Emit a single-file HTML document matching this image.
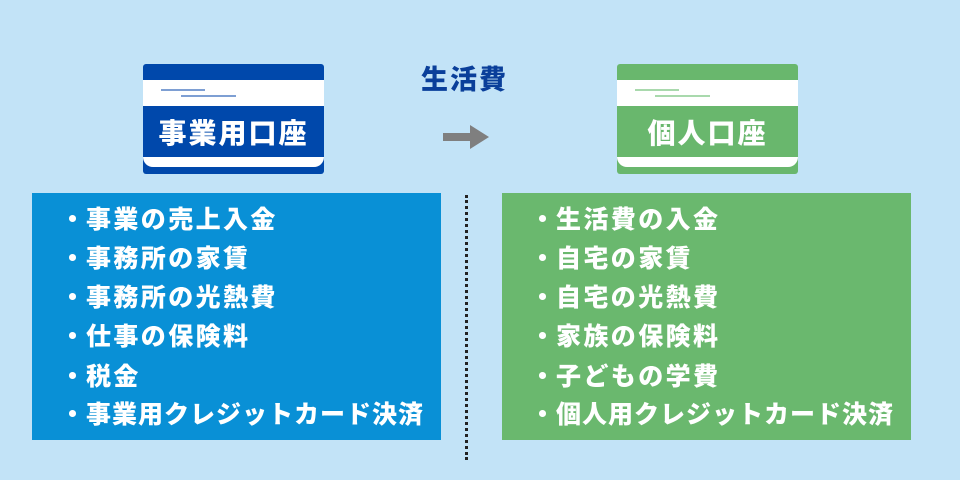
<!DOCTYPE html>
<html><head><meta charset="utf-8"><style>
body{margin:0;width:960px;height:480px;background:#c2e3f7;position:relative;overflow:hidden;font-family:"Liberation Sans","Noto Sans CJK JP",sans-serif;font-weight:bold}
.card{position:absolute;top:64px;width:181px;height:110px;border-radius:3px;overflow:hidden}
.card .w{position:absolute;left:0;right:0;top:16px;height:26px;background:#fff}
.card .b{position:absolute;left:0;right:0;top:93px;height:10px;background:#fff;border-radius:0 0 12px 12px}
.card .l1,.card .l2{position:absolute;height:2px}
.card .t{position:absolute;left:0;right:0;top:53px;text-align:center;color:#fff;font-size:28px;letter-spacing:2px;line-height:34px;font-weight:900}
.box{position:absolute;top:193px;width:409px;height:247px}
.ln{position:absolute;color:#fff;font-size:25px;line-height:30px;letter-spacing:2.4px;white-space:nowrap;font-weight:900}
.ln span{position:absolute;left:-26px}
</style></head><body>
<div class="card" style="left:143px;background:#0048ab">
<div class="w"></div><div class="l1" style="left:18px;top:25px;width:44px;background:#7e9fd3"></div><div class="l2" style="left:38px;top:31px;width:55px;background:#7e9fd3"></div>
<div class="b"></div><div class="t">事業用口座</div></div>
<div class="card" style="left:617px;background:#69b76d">
<div class="w"></div><div class="l1" style="left:18px;top:25px;width:44px;background:#a9d9ad"></div><div class="l2" style="left:38px;top:31px;width:55px;background:#a9d9ad"></div>
<div class="b"></div><div class="t">個人口座</div></div>
<div style="position:absolute;left:421px;top:64px;font-size:27px;letter-spacing:2px;color:#0a3f9a;line-height:32px;font-weight:900">生活費</div>
<svg style="position:absolute;left:440px;top:120px" width="55" height="34"><rect x="3" y="13" width="30" height="8" fill="#7f7f7f"/><polygon points="30,5 49,17 30,29" fill="#7f7f7f"/></svg>
<div class="box" style="left:32px;background:#0990d6"></div>
<div class="box" style="left:502px;background:#6ab86e"></div>
<div style="position:absolute;left:465px;top:195px;height:265px;border-left:3px dotted #222"></div>
<div class="ln" style="left:86px;top:205px"><span>・</span>事業の売上入金</div>
<div class="ln" style="left:86px;top:244px"><span>・</span>事務所の家賃</div>
<div class="ln" style="left:86px;top:283px"><span>・</span>事務所の光熱費</div>
<div class="ln" style="left:86px;top:322px"><span>・</span>仕事の保険料</div>
<div class="ln" style="left:86px;top:362px"><span>・</span>税金</div>
<div class="ln" style="left:86px;top:400px;letter-spacing:1px"><span>・</span>事業用クレジットカード決済</div>
<div class="ln" style="left:556px;top:205px"><span>・</span>生活費の入金</div>
<div class="ln" style="left:556px;top:244px"><span>・</span>自宅の家賃</div>
<div class="ln" style="left:556px;top:283px"><span>・</span>自宅の光熱費</div>
<div class="ln" style="left:556px;top:322px"><span>・</span>家族の保険料</div>
<div class="ln" style="left:556px;top:362px"><span>・</span>子どもの学費</div>
<div class="ln" style="left:556px;top:400px;letter-spacing:1px"><span>・</span>個人用クレジットカード決済</div>
</body></html>
